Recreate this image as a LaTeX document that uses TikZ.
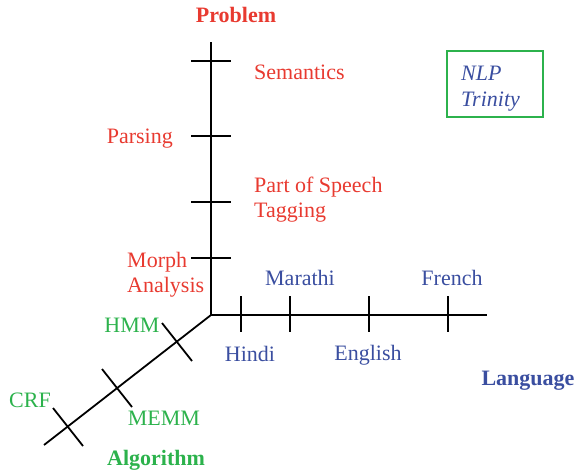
\documentclass[tikz,border=0pt]{standalone}
\usepackage{fontspec}
\setmainfont{Liberation Serif}
\usetikzlibrary{calc}
\begin{document}
\begin{tikzpicture}[x=1pt,y=-1pt,
  axis/.style={line width=1.8pt,black},
  tick/.style={line width=1.8pt,black},
  lbl/.style={font=\fontsize{22}{25}\selectfont,inner sep=0pt,align=left},
  redt/.style={lbl,text=probred},
  bluet/.style={lbl,text=langblue},
  greent/.style={lbl,text=algogreen},
  title/.style={font=\fontsize{22}{25}\selectfont\bfseries,inner sep=0pt}]
\definecolor{probred}{RGB}{232,58,48}
\definecolor{langblue}{RGB}{58,78,160}
\definecolor{algogreen}{RGB}{44,178,76}
\useasboundingbox (0,0) rectangle (577,475);

% axes
\coordinate (o) at (211,315);
\coordinate (ptop) at (211,42);
\coordinate (lend) at (487,315);
\coordinate (aend) at (44,445);
\draw[axis] (ptop) -- (o) -- (lend);
\draw[axis] (o) -- (aend);

% problem ticks
\foreach \y/\n in {61/p1,136/p2,202/p3,258/p4}{
  \coordinate (\n a) at (191,\y); \coordinate (\n b) at (231,\y);
  \draw[tick] (\n a) -- (\n b);
}
% language ticks
\foreach \x/\n in {241/l1,290/l2,369/l3,448/l4}{
  \coordinate (\n a) at (\x,296); \coordinate (\n b) at (\x,332);
  \draw[tick] (\n a) -- (\n b);
}
% algorithm ticks, perpendicular to the slanted axis
\foreach \cx/\cy/\n in {177/342/a1,117/388/a2,68/427/a3}{
  \coordinate (\n a) at ($(\cx,\cy)+(-15,-19)$);
  \coordinate (\n b) at ($(\cx,\cy)+(15,19)$);
  \draw[tick] (\n a) -- (\n b);
}

% axis titles
\node[title,text=probred] (tprob) at (236,15) {Problem};
\node[title,text=langblue] (tlang) at (528,381) {Language};
\node[title,text=algogreen] (talgo) at (156,460) {Algorithm};

% problem labels
\node[redt,anchor=west] (sem) at (254,72) {Semantics};
\node[redt,anchor=east] (pars) at (173,139) {Parsing};
\node[redt,anchor=west] (pos) at (254,200) {Part of Speech\\Tagging};
\node[redt,anchor=west] (morph) at (127,275) {Morph\\Analysis};

% language labels
\node[bluet] (mar) at (300,278) {Marathi};
\node[bluet] (fre) at (452,278) {French};
\node[bluet] (hin) at (250,354) {Hindi};
\node[bluet] (eng) at (368,355) {English};

% algorithm labels
\node[greent] (hmm) at (132,325) {HMM};
\node[greent] (crf) at (30,400) {CRF};
\node[greent] (memm) at (164,418) {MEMM};

% legend box
\draw[algogreen,line width=1.3pt] (447,51) rectangle (543,117);
\node[bluet,font=\fontsize{22}{26}\selectfont\itshape,anchor=west] (trin) at (461,89) {NLP\\Trinity};
\end{tikzpicture}
\end{document}
